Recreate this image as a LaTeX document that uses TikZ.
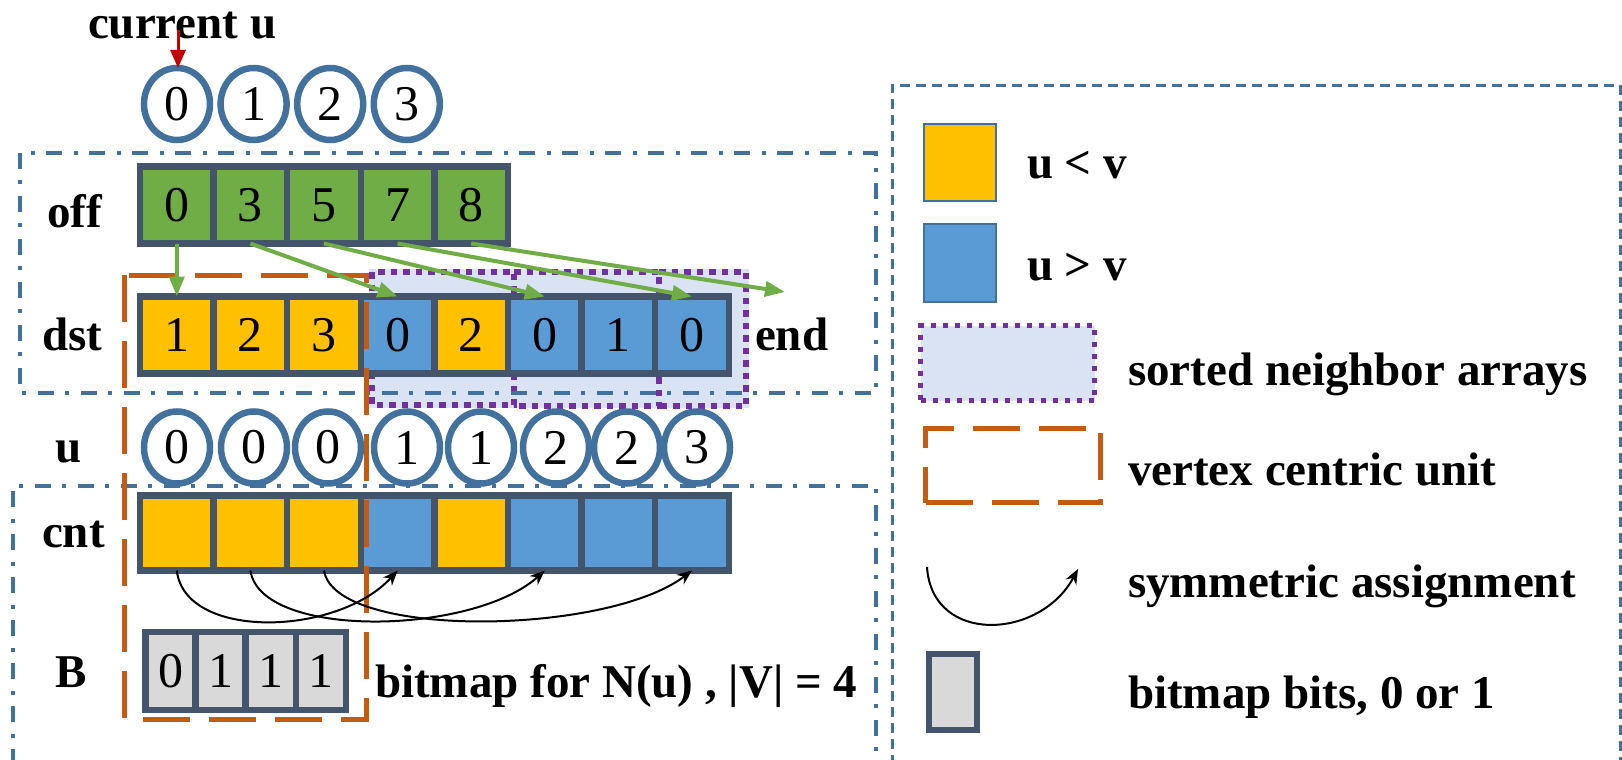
\documentclass[tikz,border=0pt]{standalone}
\usepackage{fontspec}
\setmainfont{Liberation Serif}
\usetikzlibrary{shapes.geometric,arrows.meta}
\definecolor{steel}{HTML}{41719C}
\definecolor{cellline}{HTML}{44546A}
\definecolor{ptrgreen}{HTML}{70AD47}
\definecolor{ucolor}{HTML}{FFC000}
\definecolor{vcolor}{HTML}{5B9BD5}
\definecolor{bitgray}{HTML}{D9D9D9}
\definecolor{sortpurple}{HTML}{7030A0}
\definecolor{sortfill}{HTML}{DAE3F3}
\definecolor{unitorange}{HTML}{C55A11}
\definecolor{curred}{HTML}{C00000}
\newcommand{\lblfont}{\bfseries\fontsize{47}{50}\selectfont}
\newcommand{\digfont}{\fontsize{50}{52}\selectfont}
\begin{document}
\begin{tikzpicture}[x=1pt,y=-1pt,
  cellbox/.style={draw=cellline, line width=6.5pt, minimum width=73.6pt, minimum height=77pt, inner sep=0pt, outer sep=0pt, font=\digfont},
  bitbox/.style={cellbox, fill=bitgray, minimum width=50.1pt, minimum height=78pt},
  vcirc/.style={ellipse, draw=steel, line width=6.5pt, fill=white, minimum width=66pt, minimum height=72pt, inner sep=0pt, outer sep=0pt, font=\digfont},
  lbl/.style={font=\lblfont, inner sep=0pt, outer sep=0pt, anchor=base west},
  frame/.style={draw=steel, line width=3.5pt, dash pattern=on 16pt off 11pt on 4pt off 12pt},
  legframe/.style={draw=steel, line width=3pt, dash pattern=on 10pt off 6pt},
  unitbox/.style={draw=unitorange, line width=5pt, dash pattern=on 47pt off 19pt},
  sortline/.style={draw=sortpurple, line width=6.5pt, dash pattern=on 6.5pt off 6pt},
  ptr/.style={draw=ptrgreen, line width=4pt, -{Triangle[length=20pt,width=15pt]}},
  sym/.style={draw=black, line width=2pt, -{Stealth[length=15pt,width=12pt]}},
  legsq/.style={draw=steel, line width=2pt, minimum width=72pt, minimum height=77pt, inner sep=0pt, outer sep=0pt}
]
\useasboundingbox (0,0) rectangle (1622,760);
\fill[white] (0,0) rectangle (1622,760);

% sorted neighbour array shading
\fill[sortfill] (369,269) rectangle (749,408);
\draw[sortline] (372,272) rectangle (514,405);
\draw[sortline] (514,272) -- (659,272) -- (659,406) -- (514,406);
\draw[sortline] (659,272) -- (746,272) -- (746,406) -- (659,406);

% frames
\draw[frame] (20,153) rectangle (876,393);
\draw[frame] (13,765) -- (13,486) -- (876,486) -- (876,765);
\draw[legframe] (892,765) -- (892,85) -- (1620,85) -- (1620,765);

% current u
\node[lbl] (curlbl) at (88,39) {current u};
\coordinate (cur) at (178,30);
\foreach \v [count=\i from 0] in {0,1,2,3}
  \node[vcirc] (top\i) at ({177+76.6*\i},104) {\v};
\draw[draw=curred, line width=3pt, -{Triangle[length=18pt,width=15pt]}] (cur) -- (cur |- top0.north);

% off array
\node[lbl] (offlbl) at (47,227) {off};
\foreach \v [count=\i from 0] in {0,3,5,7,8}
  \node[cellbox, fill=ptrgreen] (off\i) at ({176.8+73.6*\i},205) {\v};

% dst array
\node[lbl] (dstlbl) at (42,350) {dst};
\foreach \v/\c [count=\i from 0] in {1/ucolor,2/ucolor,3/ucolor,0/vcolor,2/ucolor,0/vcolor,1/vcolor,0/vcolor}
  \node[cellbox, fill=\c] (dst\i) at ({176.8+73.6*\i},335) {\v};
\node[lbl] (endlbl) at (755,350) {end};
\coordinate (endpt) at (785,292);

% u row
\node[lbl] (ulbl) at (55,462) {u};
\foreach \v/\x [count=\i from 0] in {0/177,0/254,0/328,1/407,1/481,2/556,2/627,3/697}
  \node[vcirc] (u\i) at (\x,447.5) {\v};

% cnt array
\node[lbl] (cntlbl) at (42,547) {cnt};
\foreach \c [count=\i from 0] in {ucolor,ucolor,ucolor,vcolor,ucolor,vcolor,vcolor,vcolor}
  \node[cellbox, fill=\c, minimum height=75pt] (cnt\i) at ({176.8+73.6*\i},533) {};

% B bitmap
\node[lbl] (blbl) at (55,687) {B};
\foreach \v [count=\i from 0] in {0,1,1,1}
  \node[bitbox] (b\i) at ({170.55+50.1*\i},671) {\v};
\node[lbl] (bitlbl) at (375,697) {bitmap for N(u) , |V| = 4};

% vertex centric unit
\draw[unitbox] (124.5,275) rectangle (366,719);

% pointer arrows
\draw[ptr] (off0.south) -- (dst0.north);
\draw[ptr] (off1.south) -- (dst3.north);
\draw[ptr] (off2.south) -- (dst5.north);
\draw[ptr] (off3.south) -- (dst7.north);
\draw[ptr] (off4.south) -- (endpt);

% symmetric assignment
\draw[sym] (cnt0.south) .. controls +(8,70) and +(-60,66) .. (cnt3.south);
\draw[sym] (cnt1.south) .. controls +(10,69) and +(-72,65) .. (cnt5.south);
\draw[sym] (cnt2.south) .. controls +(11,69) and +(-85,65) .. (cnt7.south);

% legend
\node[legsq, fill=ucolor] (legu) at (960,162.5) {};
\node[lbl] (legulbl) at (1027,178) {u < v};
\node[legsq, fill=vcolor, minimum height=78pt] (legv) at (960,263) {};
\node[lbl] (legvlbl) at (1027,280) {u > v};
\node[draw=sortpurple, line width=5pt, dash pattern=on 5pt off 7pt, fill=sortfill, minimum width=174pt, minimum height=75pt, inner sep=0pt, outer sep=0pt] (legs) at (1007.5,363) {};
\node[lbl] (legslbl) at (1128,385) {sorted neighbor arrays};
\node[draw=unitorange, line width=5pt, dash pattern=on 47pt off 19pt, minimum width=175pt, minimum height=74pt, inner sep=0pt, outer sep=0pt] (legunit) at (1013,465.5) {};
\node[lbl] (legunitlbl) at (1128,485) {vertex centric unit};
\coordinate (syma) at (927,567);
\coordinate (symb) at (1078,569);
\draw[sym] (syma) .. controls (932,645) and (1040,640) .. (symb);
\node[lbl] (legsymlbl) at (1128,597) {symmetric assignment};
\node[bitbox, minimum width=48pt, minimum height=76pt] (legbit) at (953,692) {};
\node[lbl] (legbitlbl) at (1128,708) {bitmap bits, 0 or 1};
\end{tikzpicture}
\end{document}
